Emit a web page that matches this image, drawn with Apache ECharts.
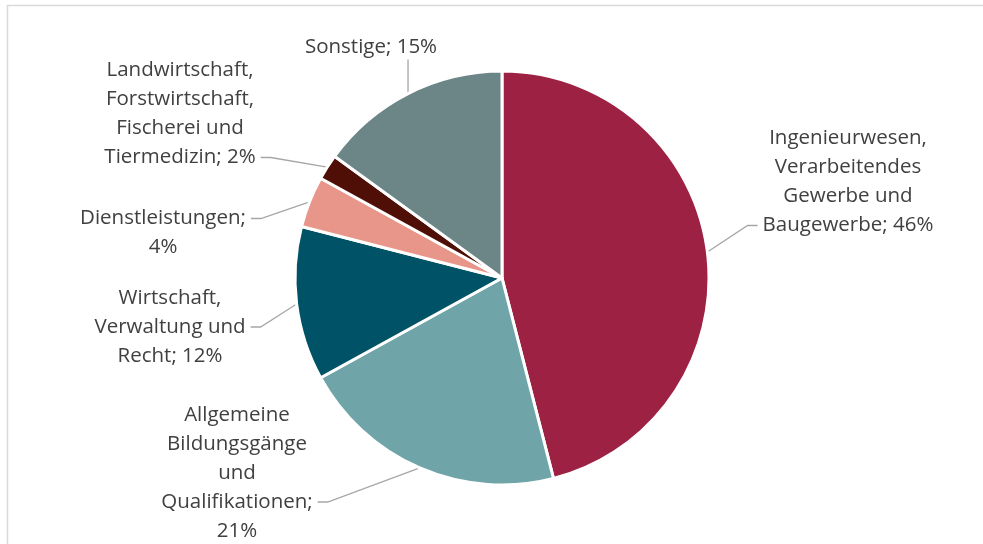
<!DOCTYPE html>
<html>
<head>
<meta charset="utf-8">
<script src="https://cdn.jsdelivr.net/npm/echarts@6/dist/echarts.min.js"></script>
<style>
  html, body { margin: 0; padding: 0; background: #fff; }
  #chart { width: 983px; height: 544px; }
</style>
</head>
<body>
<div id="chart"></div>
<script>
// slices, clockwise from 12 o'clock
const categories = [
  'Ingenieurwesen, Verarbeitendes Gewerbe und Baugewerbe',
  'Allgemeine Bildungsgänge und Qualifikationen',
  'Wirtschaft, Verwaltung und Recht',
  'Dienstleistungen',
  'Landwirtschaft, Forstwirtschaft, Fischerei und Tiermedizin',
  'Sonstige'
];
const shares = [46, 21, 12, 4, 2, 15];
// how the labels wrap in the original
const labelLines = [
  ['Ingenieurwesen,', 'Verarbeitendes', 'Gewerbe und', 'Baugewerbe; {p}%'],
  ['Allgemeine', 'Bildungsgänge', 'und', 'Qualifikationen;', '{p}%'],
  ['Wirtschaft,', 'Verwaltung und', 'Recht; {p}%'],
  ['Dienstleistungen;', '{p}%'],
  ['Landwirtschaft,', 'Forstwirtschaft,', 'Fischerei und', 'Tiermedizin; {p}%'],
  ['Sonstige; {p}%']
];
const colors = ['#9C2143', '#6FA5A8', '#005266', '#E8968A', '#4F0F06', '#6C8586'];

// label block centres, placed by hand like in the source file
const labelSpots = [
  [848, 182], [237, 473], [170, 327], [163, 233], [180, 114], [371, 47]
];
// which text line the leader meets, and from which side
const leaderAt = [[3, 'left'], [3, 'right'], [1, 'right'], [0, 'right'], [3, 'right'], [0, 'bottom']];

const FONT_SIZE = 20.5;
const LINE_H = 29;
const FONT = 'Open Sans';

const ctx = document.createElement('canvas').getContext('2d');
ctx.font = FONT_SIZE + 'px "' + FONT + '"';

function lineText(i, k) {
  return labelLines[i][k].replace('{p}', shares[i]);
}

const chart = echarts.init(document.getElementById('chart'));

chart.setOption({
  animation: false,
  graphic: [{
    type: 'rect',
    shape: { x: 7.5, y: 5.5, width: 1000, height: 600 },
    style: { fill: 'none', stroke: '#d9d9d9', lineWidth: 1.5 },
    silent: true
  }],
  series: [{
    type: 'pie',
    center: [502, 278],
    radius: 207,
    startAngle: 90,
    clockwise: true,
    data: categories.map((name, i) => ({
      name: name,
      value: shares[i],
      itemStyle: { color: colors[i] }
    })),
    itemStyle: { borderColor: '#fff', borderWidth: 3 },
    label: {
      show: true,
      position: 'outside',
      formatter: (p) => labelLines[p.dataIndex].map((t, k) => lineText(p.dataIndex, k)).join('\n'),
      fontFamily: FONT,
      fontSize: FONT_SIZE,
      lineHeight: LINE_H,
      color: '#404040',
      align: 'center'
    },
    labelLine: {
      show: true,
      length: 20,
      length2: 10,
      lineStyle: { color: '#a6a6a6', width: 1.3 }
    },
    labelLayout: (params) => {
      const i = params.dataIndex;
      const s = labelSpots[i];
      const n = labelLines[i].length;
      const [k, side] = leaderAt[i];
      const start = params.labelLinePoints[0];
      const ly = s[1] - n * LINE_H / 2 + LINE_H * (k + 0.5);
      const lw = ctx.measureText(lineText(i, k)).width;
      let pts;
      if (side === 'bottom') {
        pts = [start, [start[0], s[1] + n * LINE_H / 2 - 2]];
      } else {
        const dir = side === 'left' ? -1 : 1;
        const end = [s[0] + dir * (lw / 2 + 5), ly];
        pts = [start, [end[0] + dir * 10, ly], end];
      }
      return { x: s[0], y: s[1], align: 'center', verticalAlign: 'middle', labelLinePoints: pts };
    }
  }]
});
</script>
</body>
</html>
